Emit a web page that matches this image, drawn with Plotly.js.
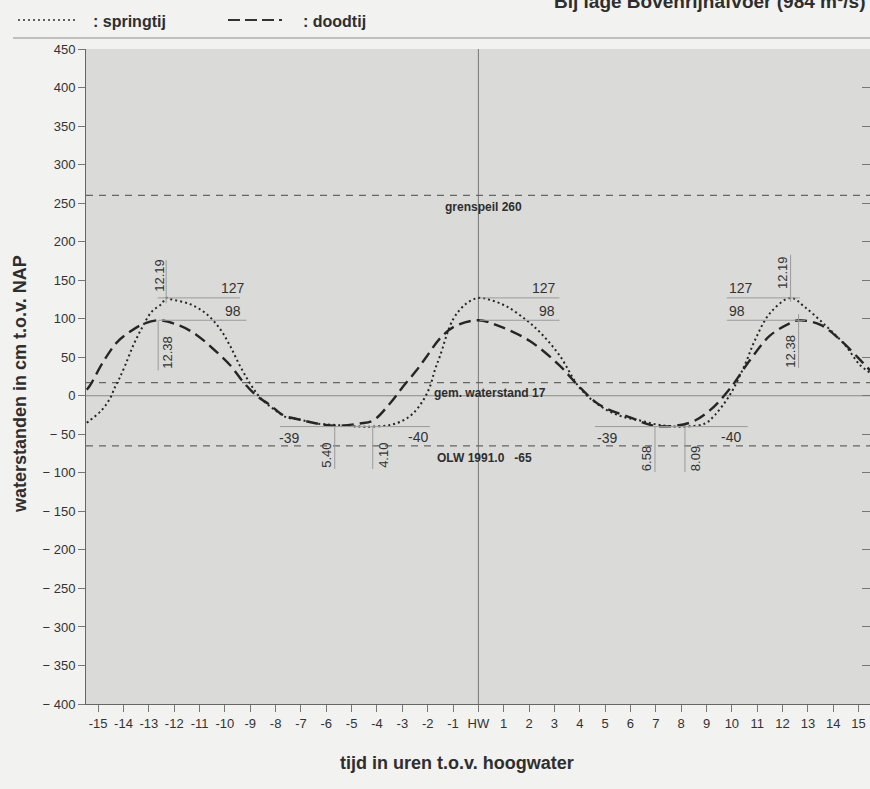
<!DOCTYPE html>
<html>
<head>
<meta charset="utf-8">
<script src="https://cdn.plot.ly/plotly-3.0.1.min.js"></script>
<style>
  html, body { margin: 0; padding: 0; background: #f2f2f1; overflow: hidden; }
  #chart { width: 870px; height: 789px; }
</style>
</head>
<body>
<div id="chart"></div>
<script>
// Tijdas: uren ten opzichte van hoogwater (HW = 0)
const hourTicks = [-15,-14,-13,-12,-11,-10,-9,-8,-7,-6,-5,-4,-3,-2,-1,0,1,2,3,4,5,6,7,8,9,10,11,12,13,14,15];
const hourLabels = ['-15','-14','-13','-12','-11','-10','-9','-8','-7','-6','-5','-4','-3','-2','-1','HW','1','2','3','4','5','6','7','8','9','10','11','12','13','14','15'];

// Waterstanden in cm t.o.v. NAP
const levelTicks = [450,400,350,300,250,200,150,100,50,0,-50,-100,-150,-200,-250,-300,-350,-400];
const levelLabels = ['450','400','350','300','250','200','150','100','50','0','\u2212 50','\u2212 100','\u2212 150','\u2212 200','\u2212 250','\u2212 300','\u2212 350','\u2212 400'];

// Springtij (gestippeld)
const springHours = [-15.45,-15.33,-14.87,-14.54,-14.34,-14.17,-13.94,-13.62,-13.29,-12.89,-12.5,-12.317,-12.1,-11.38,-10.72,-10.2,-9.8,-9.41,-9.01,-8.62,-8.09,-7.57,-7.04,-6.38,-5.59,-4.67,-4.167,-3.49,-2.97,-2.58,-2.18,-1.91,-1.72,-1.52,-1.0,-0.5,0,0.5,1.11,1.9,2.5,3.21,4.0,4.79,5.58,6.37,7.16,8.15,8.94,9.33,9.92,10.51,10.91,11.5,12.317,12.88,13.67,14.46,15.05,15.45];
const springLevel = [-35,-32,-19,-4,11,22,39,65,87,109,119,127,125,119,106,87,65,39,16,-2,-17,-28,-31,-36,-38,-40,-40,-38,-32,-23,-6,12,33,51,99,119,127,124,116,98,80,52,10,-13,-26,-32,-38,-40,-36,-25,1,40,72,107,127,115,92,66,40,30];

// Doodtij (gestreept)
const neapHours = [-15.45,-15.33,-14.8,-14.27,-13.75,-13.23,-12.633,-11.78,-11.12,-10.47,-9.8,-9.28,-8.75,-8.22,-7.71,-7.04,-6.38,-5.667,-4.67,-4.15,-3.49,-2.97,-2.44,-2.04,-1.5,-0.94,0,0.85,2.03,3.21,4.0,4.79,5.98,6.967,8.34,9.13,9.92,10.71,11.5,12.29,12.633,13.5,14.29,15.08,15.45];
const neapLevel = [8,13,44,69,83,93,98,91,79,61,40,18,0,-12,-25,-31,-36,-39,-36,-32,-10,12,33,51,75,90,98,90,71,39,11,-12,-28,-39,-35,-19,9,46,78,94,98,92,72,46,33];

// Kenmerkende peilen
const referenceLevels = [260, 17, -65];
const referenceNames = ['grenspeil 260', 'gem. waterstand 17', 'OLW 1991.0\u00a0\u00a0\u00a0-65'];

// Hoog- en laagwaters (tijden in uren; labels als uu.mm)
const springHighTimes = [-12.317, 0, 12.317];
const neapHighTimes = [-12.633, 0, 12.633];
const springHighLabel = '12.19';
const neapHighLabel = '12.38';
const springHigh = 127;
const neapHigh = 98;
const springLowTimes = [-4.167, 8.15];
const springLowLabels = ['4.10', '8.09'];
const neapLowTimes = [-5.667, 6.967];
const neapLowLabels = ['5.40', '6.58'];
const springLow = -40;
const neapLow = -39;

const FONT = 'Liberation Sans, Arial, Helvetica, sans-serif';
const INK = '#2e2e2e';
const MARK = '#9b9b9b';

const traces = [
  {
    x: springHours, y: springLevel, mode: 'lines', name: 'springtij',
    line: { color: '#262626', width: 2, dash: '2px,3px', shape: 'spline', smoothing: 1 },
    hoverinfo: 'skip'
  },
  {
    x: neapHours, y: neapLevel, mode: 'lines', name: 'doodtij',
    line: { color: '#262626', width: 2.4, dash: '12px,6px', shape: 'spline', smoothing: 1 },
    hoverinfo: 'skip'
  },
  { x: [], y: [], yaxis: 'y2', hoverinfo: 'skip', showlegend: false }
];

const shapes = [];
const annotations = [];

function seg(x0, y0, x1, y1, color, width, dash) {
  shapes.push({ type: 'line', xref: 'x', yref: 'y', x0, y0, x1, y1,
    line: { color, width, dash: dash || 'solid' }, layer: 'above' });
}
function label(text, x, y, opts) {
  annotations.push(Object.assign({
    text, x, y, xref: 'x', yref: 'y', showarrow: false,
    font: { family: FONT, size: 14, color: '#333' }
  }, opts || {}));
}

// nullijn en HW-lijn
shapes.push({ type: 'line', xref: 'paper', yref: 'y', x0: 0, x1: 1, y0: 0, y1: 0,
  line: { color: '#8a8a8a', width: 1 }, layer: 'below' });
shapes.push({ type: 'line', xref: 'x', yref: 'paper', x0: 0, x1: 0, y0: 0, y1: 1,
  line: { color: '#777', width: 1 }, layer: 'below' });

// kenmerkende peilen
const refLabelX = [-1.4, -1.83, -1.72];
referenceLevels.forEach((lvl, i) => {
  shapes.push({ type: 'line', xref: 'paper', yref: 'y', x0: 0, x1: 1, y0: lvl, y1: lvl,
    line: { color: '#666', width: 1.2, dash: '7px,6px' }, layer: 'below' });
  label(referenceNames[i], refLabelX[i], lvl, {
    xanchor: 'left', yanchor: 'top', yshift: i === 1 ? -1 : -3,
    font: { family: FONT, size: 12, color: INK, weight: 'bold' }
  });
});

// hoogwaters: linker top
seg(-12.65, springHigh, -9.4, springHigh, MARK, 1);
seg(-12.6, neapHigh, -9.15, neapHigh, MARK, 1);
label(String(springHigh), -9.13, springHigh, { xanchor: 'right', yanchor: 'bottom', yshift: 0 });
label(String(neapHigh), -9.28, neapHigh, { xanchor: 'right', yanchor: 'bottom', yshift: -1 });
seg(springHighTimes[0], 120, springHighTimes[0], 176, MARK, 1);
seg(neapHighTimes[0], 33, neapHighTimes[0], neapHigh, MARK, 1);
label(springHighLabel, springHighTimes[0], 156, { textangle: -90, xshift: -7, font: { family: FONT, size: 13, color: '#333' } });
label(neapHighLabel, neapHighTimes[0], 56, { textangle: -90, xshift: 9, font: { family: FONT, size: 13, color: '#333' } });

// hoogwaters: HW
seg(springHighTimes[1] + 0.05, springHigh, 3.2, springHigh, MARK, 1);
seg(neapHighTimes[1] + 0.05, neapHigh, 3.2, neapHigh, MARK, 1);
label(String(springHigh), 3.15, springHigh, { xanchor: 'right', yanchor: 'bottom', yshift: 0 });
label(String(neapHigh), 3.12, neapHigh, { xanchor: 'right', yanchor: 'bottom', yshift: -1 });

// hoogwaters: rechter top
seg(9.8, springHigh, 12.68, springHigh, MARK, 1);
seg(9.8, neapHigh, 12.9, neapHigh, MARK, 1);
label(String(springHigh), 9.8, springHigh, { xanchor: 'left', yanchor: 'bottom', yshift: 0 });
label(String(neapHigh), 9.8, neapHigh, { xanchor: 'left', yanchor: 'bottom', yshift: -1 });
seg(springHighTimes[2], 122, springHighTimes[2], 183, MARK, 1);
seg(neapHighTimes[2], 36, neapHighTimes[2], 106, MARK, 1);
label(springHighLabel, springHighTimes[2], 160, { textangle: -90, xshift: -8, font: { family: FONT, size: 13, color: '#333' } });
label(neapHighLabel, neapHighTimes[2], 58, { textangle: -90, xshift: -9, font: { family: FONT, size: 13, color: '#333' } });

// laagwaters
const lowSpans = [[-7.83, -1.91], [4.6, 10.63]];
const lowLabelEnds = [[-7.95, -1.91], [4.6, 10.43]];
const lowDepth = [-95, -99];
const lowLabelY = [-77, -81];
lowSpans.forEach((span, i) => {
  seg(span[0], springLow, span[1], springLow, MARK, 1);
  label(String(neapLow), lowLabelEnds[i][0], springLow, { xanchor: 'left', yanchor: 'top', yshift: -1 });
  label(String(springLow), lowLabelEnds[i][1], springLow, { xanchor: 'right', yanchor: 'top', yshift: 0 });
  seg(neapLowTimes[i], springLow, neapLowTimes[i], lowDepth[i], MARK, 1);
  seg(springLowTimes[i], springLow, springLowTimes[i], lowDepth[i], MARK, 1);
  label(neapLowLabels[i], neapLowTimes[i], lowLabelY[i], { textangle: -90, xshift: -9, font: { family: FONT, size: 13, color: '#333' } });
  label(springLowLabels[i], springLowTimes[i], lowLabelY[i], { textangle: -90, xshift: 10, font: { family: FONT, size: 13, color: '#333' } });
});

// kop: legenda en scheidingslijn (paper-coördinaten, pixel-omrekening)
const L = 86, T = 49, W = 784, H = 655;
const px = v => (v - L) / W;
const py = v => (T + H - v) / H;
shapes.push({ type: 'line', xref: 'paper', yref: 'paper', x0: px(13), x1: px(872), y0: py(38), y1: py(38),
  line: { color: '#8c8c8c', width: 1.2 } });
shapes.push({ type: 'line', xref: 'paper', yref: 'paper', x0: px(18), x1: px(75), y0: py(20), y1: py(20),
  line: { color: '#333', width: 1.6, dash: '2px,3px' } });
shapes.push({ type: 'line', xref: 'paper', yref: 'paper', x0: px(228), x1: px(283), y0: py(20), y1: py(20),
  line: { color: '#333', width: 1.8, dash: '12px,5px,12px,5px,12px,5px,3px' } });
annotations.push({ text: ': springtij', xref: 'paper', yref: 'paper', x: px(91), y: py(22),
  xanchor: 'left', yanchor: 'middle', showarrow: false,
  font: { family: FONT, size: 16, color: INK, weight: 'bold' } });
annotations.push({ text: ': doodtij', xref: 'paper', yref: 'paper', x: px(301), y: py(22),
  xanchor: 'left', yanchor: 'middle', showarrow: false,
  font: { family: FONT, size: 16, color: INK, weight: 'bold' } });
annotations.push({ text: 'Bij lage Bovenrijnafvoer (984 m\u00b3/s)', xref: 'paper', yref: 'paper', x: px(552), y: py(1),
  xanchor: 'left', yanchor: 'middle', showarrow: false,
  font: { family: FONT, size: 19, color: INK, weight: 'bold' } });

// astitels
annotations.push({ text: 'tijd in uren t.o.v. hoogwater', xref: 'paper', yref: 'paper', x: px(457), y: py(763),
  xanchor: 'center', yanchor: 'middle', showarrow: false,
  font: { family: FONT, size: 18, color: INK, weight: 'bold' } });
annotations.push({ text: 'waterstanden in cm t.o.v. NAP', xref: 'paper', yref: 'paper', x: px(20), y: py(384),
  xanchor: 'center', yanchor: 'middle', showarrow: false, textangle: -90,
  font: { family: FONT, size: 18, color: INK, weight: 'bold' } });

const layout = {
  width: 870, height: 789,
  margin: { l: 86, r: 0, t: 49, b: 85, pad: 0 },
  paper_bgcolor: '#f2f2f1',
  plot_bgcolor: '#dadad9',
  showlegend: false,
  font: { family: FONT, color: '#333' },
  xaxis: {
    range: [-15.48, 15.45], tickmode: 'array', tickvals: hourTicks, ticktext: hourLabels,
    ticks: 'outside', ticklen: 7, tickcolor: '#777', tickwidth: 1,
    showline: true, linecolor: '#666', linewidth: 1, showgrid: false, zeroline: false,
    tickfont: { family: FONT, size: 13, color: '#333' }
  },
  yaxis: {
    range: [-400, 450], tickmode: 'array', tickvals: levelTicks, ticktext: levelLabels,
    ticks: 'outside', ticklen: 7, tickcolor: '#777', tickwidth: 1,
    showline: true, linecolor: '#666', linewidth: 1, showgrid: false, zeroline: false,
    tickfont: { family: FONT, size: 13, color: '#333' }
  },
  yaxis2: {
    overlaying: 'y', side: 'right', range: [-400, 450], tickmode: 'array', tickvals: levelTicks,
    ticks: 'inside', ticklen: 8, tickcolor: '#777', showticklabels: false,
    showline: false, showgrid: false, zeroline: false
  },
  shapes, annotations
};

Plotly.newPlot('chart', traces, layout, { staticPlot: true, displayModeBar: false });
</script>
</body>
</html>
